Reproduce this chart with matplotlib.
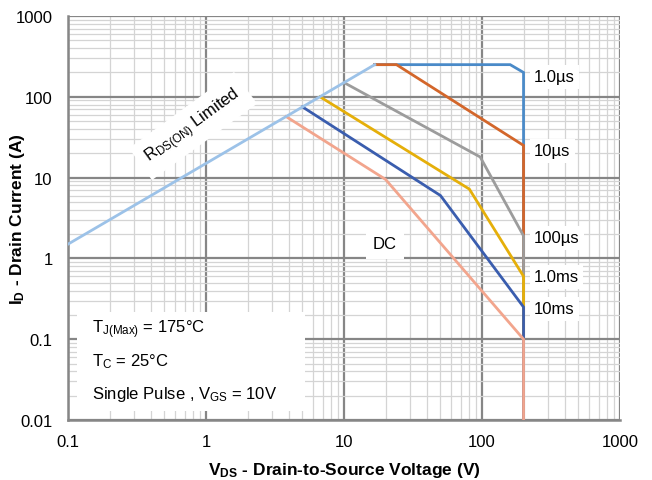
import matplotlib
matplotlib.use("Agg")
import matplotlib.pyplot as plt
from matplotlib.ticker import LogLocator, NullFormatter, FixedLocator, FixedFormatter
from matplotlib.patches import Rectangle

plt.rcParams['font.family'] = ['Liberation Sans', 'DejaVu Sans']
plt.rcParams['mathtext.fontset'] = 'custom'
plt.rcParams['mathtext.rm'] = 'Liberation Sans'
plt.rcParams['mathtext.it'] = 'Liberation Sans:italic'
plt.rcParams['mathtext.bf'] = 'Liberation Sans:bold'

# ---- data ----
rds_v = [0.1, 16.7]
rds_i = [1.5, 250]
us1_v = [16.7, 160, 200, 200]
us1_i = [250, 250, 200, 0.01]
us10_v = [16.7, 24, 200, 200]
us10_i = [250, 250, 25, 0.01]
us100_v = [10, 97, 200, 200]
us100_i = [150, 18, 1.9, 0.01]
ms1_v = [6.7, 81, 200, 200]
ms1_i = [100, 7.2, 0.6, 0.01]
ms10_v = [5, 50, 200, 200]
ms10_i = [75, 6, 0.25, 0.01]
dc_v = [3.8, 20, 200, 200]
dc_i = [57, 9.5, 0.1, 0.01]

x_ticks = [0.1, 1, 10, 100, 1000]
x_tick_labels = ['0.1', '1', '10', '100', '1000']
y_ticks = [0.01, 0.1, 1, 10, 100, 1000]
y_tick_labels = ['0.01', '0.1', '1', '10', '100', '1000']

series = [
    (us1_v, us1_i, '#4A8AC8', '1.0\u00b5s'),
    (us10_v, us10_i, '#D3662A', '10\u00b5s'),
    (us100_v, us100_i, '#9C9C9C', '100\u00b5s'),
    (ms1_v, ms1_i, '#E5AF0A', '1.0ms'),
    (ms10_v, ms10_i, '#3A5DAE', '10ms'),
    (dc_v, dc_i, '#F2A58D', 'DC'),
]

FS = 12

fig = plt.figure(figsize=(6.52, 4.81), dpi=100)
ax = fig.add_axes([68/652, 1-421/481, (620-68)/652, (421-17)/481])
ax.set_xscale('log')
ax.set_yscale('log')
ax.set_xlim(0.1, 1000)
ax.set_ylim(0.01, 1000)

ax.xaxis.set_major_locator(FixedLocator(x_ticks))
ax.xaxis.set_major_formatter(FixedFormatter(x_tick_labels))
ax.yaxis.set_major_locator(FixedLocator(y_ticks))
ax.yaxis.set_major_formatter(FixedFormatter(y_tick_labels))
ax.xaxis.set_minor_locator(LogLocator(base=10, subs=range(2, 10), numticks=20))
ax.yaxis.set_minor_locator(LogLocator(base=10, subs=range(2, 10), numticks=20))
ax.xaxis.set_minor_formatter(NullFormatter())
ax.yaxis.set_minor_formatter(NullFormatter())

ax.grid(True, which='minor', color='#D4D4D4', linewidth=0.9, zorder=0)
ax.grid(True, which='major', color='#868686', linewidth=1.6, zorder=0)
ax.set_axisbelow(True)
ax.tick_params(which='both', length=0, labelsize=FS, colors='#000000')
ax.tick_params(axis='y', pad=11)
ax.tick_params(axis='x', pad=10)

for s in ['top', 'right']:
    ax.spines[s].set_visible(False)
for s in ['left', 'bottom']:
    ax.spines[s].set_color('#868686')
    ax.spines[s].set_linewidth(1.8)

def xv(px):
    return 10 ** ((px - 68) / 138 - 1)

def yv(py):
    return 10 ** (3 - (py - 17) / 80.8)

# text box background (hides gridlines)
ax.add_patch(Rectangle((xv(77), yv(412)), xv(305) - xv(77), yv(313) - yv(412),
                       facecolor='white', edgecolor='none', zorder=1))

for v, i, c, lab in series:
    ax.plot(v, i, color=c, linewidth=2.0, solid_joinstyle='miter', zorder=3)

ax.plot(rds_v, rds_i, color='#9CC2E8', linewidth=2.0, zorder=4)

lbl_pos = {'1.0\u00b5s': (xv(534), yv(78)), '10\u00b5s': (xv(534), yv(152)),
           '100\u00b5s': (xv(534), yv(239)), '1.0ms': (xv(534), yv(278)),
           '10ms': (xv(534), yv(310))}
for v, i, c, lab in series:
    if lab == 'DC':
        continue
    px, py = lbl_pos[lab]
    ax.text(px, py, lab, fontsize=FS, ha='left', va='center', zorder=5,
            bbox=dict(facecolor='white', edgecolor='none', pad=3))

ax.text(xv(385), yv(245), 'DC', fontsize=FS, ha='center', va='center', zorder=5,
        bbox=dict(facecolor='white', edgecolor='none', pad=5))

ax.text(xv(193), yv(127), r'R$_\mathrm{DS(ON)}$ Limited', fontsize=FS, rotation=36,
        ha='center', va='center', zorder=5, rotation_mode='anchor',
        bbox=dict(facecolor='white', edgecolor='none', pad=6))

ax.text(xv(92), yv(330), r'T$_\mathrm{J(Max)}$ = 175°C', fontsize=FS, ha='left', va='center', zorder=5)
ax.text(xv(92), yv(362), r'T$_\mathrm{C}$ = 25°C', fontsize=FS, ha='left', va='center', zorder=5)
ax.text(xv(92), yv(395), r'Single Pulse , V$_\mathrm{GS}$ = 10V', fontsize=FS, ha='left', va='center', zorder=5)

ax.set_xlabel(r'V$_\mathbf{DS}$ - Drain-to-Source Voltage (V)', fontsize=12.5, fontweight='bold')
ax.set_ylabel(r'I$_\mathbf{D}$ - Drain Current (A)', fontsize=12.5, fontweight='bold')
ax.xaxis.set_label_coords(0.5, -0.098)
ax.yaxis.set_label_coords(-0.074, 0.5)

fig.savefig('out.png', dpi=100)
